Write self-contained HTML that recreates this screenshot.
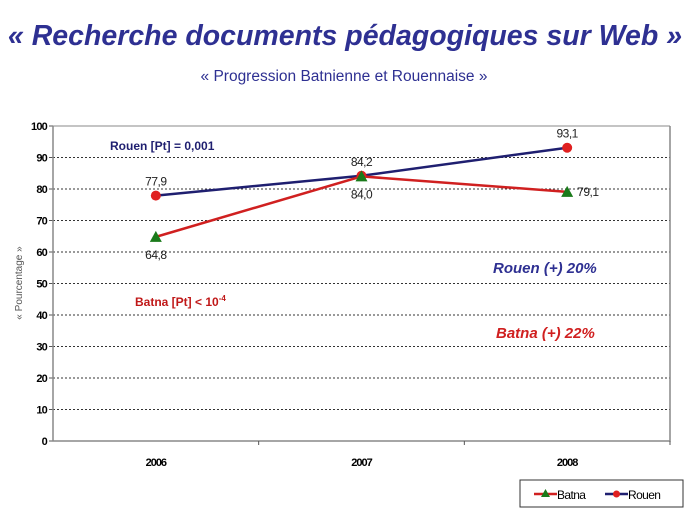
<!DOCTYPE html>
<html><head><meta charset="utf-8"><style>
body{margin:0;background:#fff;font-family:"Liberation Sans",sans-serif}
</style></head><body>
<svg width="689" height="517" xmlns="http://www.w3.org/2000/svg" font-family="Liberation Sans, sans-serif">
<text x="345" y="45" text-anchor="middle" font-size="28.5" font-weight="bold" font-style="italic" fill="#2e3092">« Recherche documents pédagogiques sur Web »</text>
<text x="344" y="81" text-anchor="middle" font-size="15.5" fill="#2e3092">« Progression Batnienne et Rouennaise »</text>
<g id="grid"></g>
<g id="series"></g>
<text transform="translate(22,283) rotate(-90)" text-anchor="middle" font-size="10" fill="#555">« Pourcentage »</text>
<text x="110" y="150" font-size="12" font-weight="bold" fill="#1f1f70">Rouen  [Pt] = 0,001</text>
<text x="135" y="306" font-size="12" font-weight="bold" fill="#c01818">Batna  [Pt] &lt; 10<tspan font-size="8" dy="-5">-4</tspan></text>
<text x="493" y="273" font-size="15" font-weight="bold" font-style="italic" fill="#2e3092">Rouen  (+)  20%</text>
<text x="496" y="338" font-size="15" font-weight="bold" font-style="italic" fill="#d02020">Batna  (+) 22%</text>
<g>
<rect x="520" y="480" width="163" height="27" fill="#fff" stroke="#333" stroke-width="1"/>
<line x1="534" y1="494" x2="557" y2="494" stroke="#d02020" stroke-width="2.5"/>
<polygon points="545.5,489 550,497 541,497" fill="#1a7a1a"/>
<text x="557" y="499" font-size="12" fill="#000" letter-spacing="-0.6">Batna</text>
<line x1="605" y1="494" x2="628" y2="494" stroke="#1f1f70" stroke-width="2.5"/>
<circle cx="616.5" cy="494" r="3.5" fill="#e02020"/>
<text x="628" y="499" font-size="12" fill="#000" letter-spacing="-0.6">Rouen</text>
</g>
</svg>
<script>
const categories=["2006","2007","2008"];
const batna=[64.8,84.0,79.1];
const rouen=[77.9,84.2,93.1];
const yTicks=[0,10,20,30,40,50,60,70,80,90,100];
const batnaLabels=["64,8","84,0","79,1"];
const rouenLabels=["77,9","84,2","93,1"];
const NS="http://www.w3.org/2000/svg";
const L=53,R=670,T=126,B=441;
const y=v=>B-(v/100)*(B-T);
const bw=(R-L)/categories.length;
const x=i=>L+bw*(i+0.5);
function mk(tag,attrs,parent){const e=document.createElementNS(NS,tag);for(const k in attrs)e.setAttribute(k,attrs[k]);parent.appendChild(e);return e;}
const g=document.getElementById('grid'),s=document.getElementById('series');
yTicks.forEach(t=>{
 if(t>0){const l=mk('line',{x1:L,x2:R,y1:y(t),y2:y(t),stroke:'#333','stroke-dasharray':'2,2','stroke-width':1},g);
 
 }
 const tx=mk('text',{x:L-6,y:y(t)+4,'text-anchor':'end','font-size':11,'font-weight':'bold','letter-spacing':'-0.8',fill:'#000'},g);tx.textContent=t;
 
 
 mk('line',{x1:L-4,x2:L,y1:y(t),y2:y(t),stroke:'#555'},g);
});
const ax=mk('path',{d:`M${L},${T} V${B} H${R} V${T}`,fill:'none',stroke:'#888','stroke-width':1.5},g);


mk('line',{x1:L,x2:R,y1:T,y2:T,stroke:'#888'},g);
categories.forEach((c,i)=>{
 mk('line',{x1:L+bw*(i+1),x2:L+bw*(i+1),y1:B,y2:B+4,stroke:'#555'},g);
 const tx=mk('text',{x:x(i),y:B+25,'text-anchor':'middle','font-size':11,'font-weight':'bold','letter-spacing':'-1',fill:'#000'},g);tx.textContent=c;
 
 
});
const rl=mk('polyline',{points:rouen.map((v,i)=>x(i)+','+y(v)).join(' '),fill:'none',stroke:'#1f1f70','stroke-width':2.5},s);


const bl=mk('polyline',{points:batna.map((v,i)=>x(i)+','+y(v)).join(' '),fill:'none',stroke:'#d02020','stroke-width':2.5},s);


rouen.forEach((v,i)=>{
 const c=mk('circle',{cx:x(i),cy:y(v),r:5,fill:'#e02020'},s);
 
 
 const t=mk('text',{x:x(i),y:y(v)-10,'text-anchor':'middle','font-size':12,fill:'#222','letter-spacing':'-0.5'},s);t.textContent=rouenLabels[i];
 
 
});
batna.forEach((v,i)=>{
 const px=x(i),py=y(v);
 const p=mk('polygon',{points:`${px},${py-6} ${px+6},${py+5} ${px-6},${py+5}`,fill:'#1a7a1a'},s);
 
 
 const last=i===batna.length-1;
 const t=mk('text',{x:last?px+10:px,y:last?py+4:py+22,'text-anchor':last?'start':'middle','font-size':12,fill:'#222','letter-spacing':'-0.5'},s);t.textContent=batnaLabels[i];
 
 
});
</script>
</body></html>
